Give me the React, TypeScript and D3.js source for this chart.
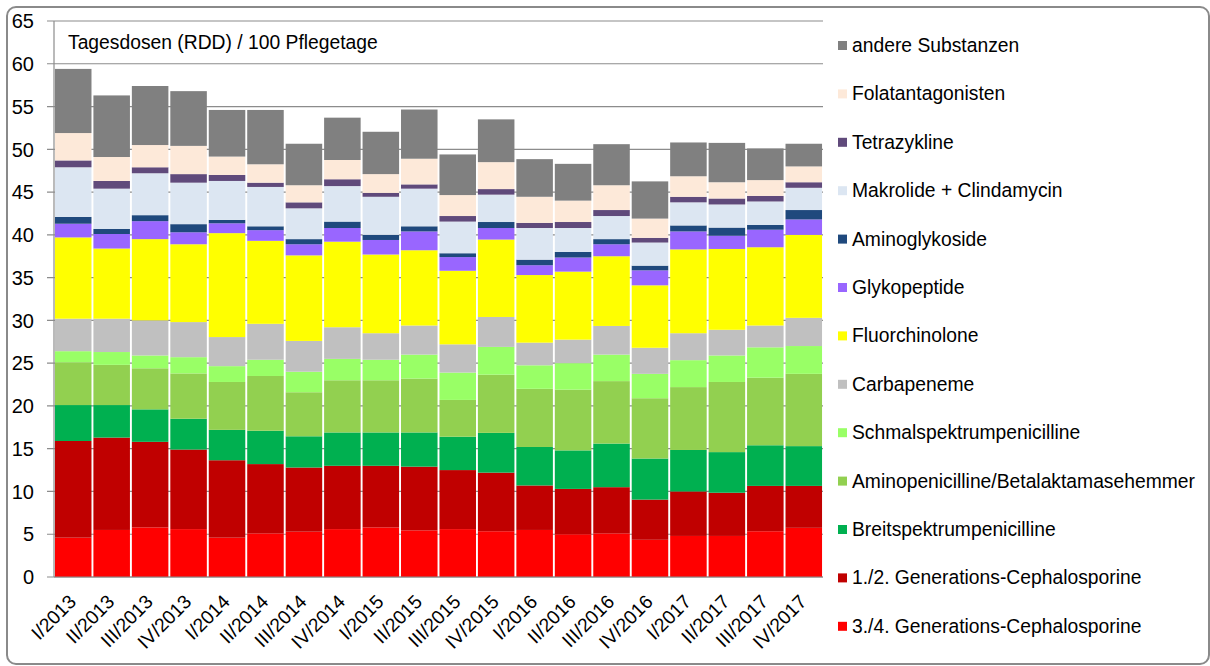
import React from "react";
import * as d3 from "d3";

const quarters = ["I/2013","II/2013","III/2013","IV/2013","I/2014","II/2014","III/2014","IV/2014","I/2015","II/2015","III/2015","IV/2015","I/2016","II/2016","III/2016","IV/2016","I/2017","II/2017","III/2017","IV/2017"];

const cephalo34 = [4.6,5.5,5.8,5.6,4.6,5.1,5.3,5.6,5.8,5.45,5.6,5.35,5.5,5.0,5.1,4.35,4.8,4.8,5.35,5.75];
const cephalo12 = [11.3,10.8,10.0,9.3,9.05,8.1,7.5,7.4,7.2,7.45,6.9,6.85,5.2,5.3,5.4,4.7,5.2,5.05,5.3,4.9];
const breit = [4.2,3.8,3.8,3.6,3.55,3.9,3.65,3.9,3.9,4.0,3.9,4.65,4.5,4.5,5.1,4.8,4.85,4.75,4.75,4.65];
const aminopen = [5.0,4.7,4.8,5.3,5.6,6.4,5.15,6.1,6.1,6.3,4.3,6.8,6.8,7.1,7.3,7.05,7.35,8.2,7.9,8.45];
const schmal = [1.3,1.5,1.5,1.9,1.85,1.9,2.4,2.5,2.4,2.8,3.2,3.25,2.75,3.1,3.1,2.85,3.15,3.1,3.55,3.25];
const carba = [3.8,3.9,4.1,4.1,3.4,4.2,3.6,3.7,3.1,3.4,3.3,3.5,2.65,2.75,3.35,3.05,3.15,3.0,2.55,3.3];
const fluor = [9.5,8.2,9.5,9.1,12.15,9.7,10.0,10.0,9.2,8.8,8.6,9.05,7.9,7.95,8.15,7.3,9.8,9.45,9.15,9.7];
const glyko = [1.6,1.7,2.1,1.4,1.15,1.25,1.3,1.6,1.7,2.2,1.6,1.35,1.15,1.65,1.4,1.75,2.1,1.55,2.05,1.8];
const aminogly = [0.8,0.6,0.7,0.95,0.4,0.45,0.6,0.75,0.6,0.6,0.45,0.7,0.65,0.65,0.6,0.55,0.7,0.95,0.55,1.1];
const makro = [5.8,4.7,4.9,4.85,4.55,4.6,3.6,4.15,4.45,4.4,3.7,3.2,3.7,2.8,2.7,2.7,2.7,2.7,2.75,2.6];
const tetra = [0.8,0.9,0.7,1.0,0.7,0.5,0.7,0.8,0.45,0.5,0.65,0.65,0.6,0.7,0.7,0.55,0.65,0.7,0.65,0.65];
const folat = [3.2,2.8,2.6,3.3,2.15,2.15,2.0,2.25,2.2,3.0,2.45,3.15,3.05,2.5,2.9,2.25,2.4,1.9,1.85,1.85];
const andere = [7.5,7.2,6.9,6.4,5.45,6.35,4.85,4.95,4.95,5.75,4.75,5.0,4.4,4.3,4.8,4.35,3.95,4.6,3.7,2.65];

const yTicks = [0,5,10,15,20,25,30,35,40,45,50,55,60,65];
const title = "Tagesdosen (RDD) / 100 Pflegetage";

// bottom-to-top stacking order
const series = [
  { key: "c34", name: "3./4. Generations-Cephalosporine", values: cephalo34, color: "#FF0000" },
  { key: "c12", name: "1./2. Generations-Cephalosporine", values: cephalo12, color: "#C00000" },
  { key: "breit", name: "Breitspektrumpenicilline", values: breit, color: "#00B050" },
  { key: "aminopen", name: "Aminopenicilline/Betalaktamasehemmer", values: aminopen, color: "#92D050" },
  { key: "schmal", name: "Schmalspektrumpenicilline", values: schmal, color: "#99FF66" },
  { key: "carba", name: "Carbapeneme", values: carba, color: "#C0C0C0" },
  { key: "fluor", name: "Fluorchinolone", values: fluor, color: "#FFFF00" },
  { key: "glyko", name: "Glykopeptide", values: glyko, color: "#9966FF" },
  { key: "aminogly", name: "Aminoglykoside", values: aminogly, color: "#1F497D" },
  { key: "makro", name: "Makrolide + Clindamycin", values: makro, color: "#DCE6F2" },
  { key: "tetra", name: "Tetrazykline", values: tetra, color: "#604A7B" },
  { key: "folat", name: "Folatantagonisten", values: folat, color: "#FDE9D9" },
  { key: "andere", name: "andere Substanzen", values: andere, color: "#808080" },
];

const W = 1210, H = 666;
const FONT = "'Liberation Sans', Arial, Helvetica, sans-serif";

export default function App() {
  const x = d3.scaleBand<string>().domain(quarters).range([54, 823]).paddingInner(0.05).paddingOuter(0.025);
  const y = d3.scaleLinear().domain([0, 65]).range([577, 21]);

  const table = quarters.map((q, i) => {
    const row: any = { q };
    series.forEach((s) => (row[s.key] = s.values[i]));
    return row;
  });
  const stacked = d3.stack<any>().keys(series.map((s) => s.key))(table);

  const legendItems = [...series].reverse();

  return (
    <svg width={W} height={H} style={{ position: "absolute", left: 0, top: 0, background: "#fff" }} fontFamily={FONT}>
      <rect x={0} y={0} width={W} height={H} fill="#fff" />
      <rect x={7} y={7} width={1202} height={657} rx={9} fill="#fff" stroke="#8a8a8a" strokeWidth={2} />
      {/* gridlines */}
      {yTicks.map((t) => (
        <g key={t}>
          <line x1={47} x2={823} y1={y(t)} y2={y(t)} stroke="#8c8c8c" strokeWidth={1.2} />
          <text x={34} y={y(t)} dy="0.36em" textAnchor="end" fontSize={20} fill="#000">{t}</text>
        </g>
      ))}
      <line x1={54} x2={54} y1={y(65)} y2={y(0)} stroke="#8c8c8c" strokeWidth={1.2} />
      <text x={68} y={49} fontSize={19.3} fill="#000">{title}</text>
      {/* bars */}
      {stacked.map((layer, li) => (
        <g key={layer.key} fill={series[li].color}>
          {layer.map((d, i) => (
            <rect key={i} x={x(quarters[i])} width={x.bandwidth()} y={y(d[1])} height={Math.max(0, y(d[0]) - y(d[1]))} />
          ))}
        </g>
      ))}
      <line x1={54} x2={823} y1={y(0)} y2={y(0)} stroke="#8c8c8c" strokeWidth={1.2} />
      {/* x labels */}
      {quarters.map((q) => {
        const cx = (x(q) as number) + x.bandwidth() / 2;
        return (
          <text key={q} transform={`translate(${cx + 4},${603}) rotate(-45)`} textAnchor="end" fontSize={19.3} fill="#000">{q}</text>
        );
      })}
      {/* legend */}
      {legendItems.map((s, i) => {
        const cy = 45.5 + i * 48.4;
        return (
          <g key={s.key}>
            <rect x={838} y={cy - 4.5} width={9} height={9} fill={s.color} />
            <text x={852} y={cy + 6.5} fontSize={19.3} fill="#000">{s.name}</text>
          </g>
        );
      })}
    </svg>
  );
}
